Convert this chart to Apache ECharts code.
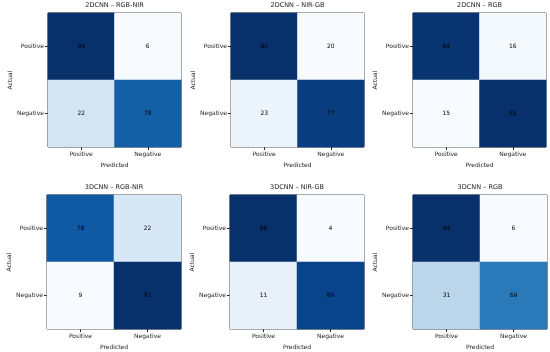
<!DOCTYPE html>
<html><head><meta charset="utf-8">
<script src="https://cdn.jsdelivr.net/npm/echarts@6/dist/echarts.min.js"></script>
<style>html,body{margin:0;padding:0;background:#fff}#c{width:550px;height:352px}</style>
</head><body><div id="c"></div>
<script>
const titles = ['2DCNN – RGB-NIR','2DCNN – NIR-GB','2DCNN – RGB','3DCNN – RGB-NIR','3DCNN – NIR-GB','3DCNN – RGB'];
const predictedLabels = ['Positive','Negative'];
const actualLabels = ['Positive','Negative'];
const m1 = [[94,6],[22,78]];
const m2 = [[80,20],[23,77]];
const m3 = [[84,16],[15,85]];
const m4 = [[78,22],[9,91]];
const m5 = [[96,4],[11,89]];
const m6 = [[94,6],[31,69]];
const matrices = [m1,m2,m3,m4,m5,m6];

const blues = ['#f7fbff','#deebf7','#c6dbef','#9ecae1','#6baed6','#4292c6','#2171b5','#08519c','#08306b'];
const boxes = [
  [48,13,133,134],[231,13,133,134],[413,13,133,134],
  [47,195,134,134],[230,195,134,134],[413,195,134,134]
];
const font = 'DejaVu Sans';
const fs = 6;
const grid=[],xAxis=[],yAxis=[],series=[],visualMap=[],title=[];
matrices.forEach((m,i)=>{
  const [l,t,w,h]=boxes[i];
  grid.push({left:l,top:t,width:w,height:h,show:true,borderColor:'#222',borderWidth:1,backgroundColor:'transparent'});
  xAxis.push({type:'category',gridIndex:i,data:predictedLabels,name:'Predicted',nameLocation:'middle',nameGap:15,
    nameTextStyle:{fontFamily:font,fontSize:fs,color:'#222'},
    axisLine:{show:false},axisTick:{show:true,alignWithLabel:true,length:3,lineStyle:{color:'#222'}},
    axisLabel:{fontFamily:font,fontSize:fs,color:'#222',margin:4},splitLine:{show:false}});
  yAxis.push({type:'category',gridIndex:i,data:actualLabels,inverse:true,name:'Actual',nameLocation:'middle',nameGap:35,
    nameTextStyle:{fontFamily:font,fontSize:fs,color:'#222'},
    axisLine:{show:false},axisTick:{show:true,alignWithLabel:true,length:3,lineStyle:{color:'#222'}},
    axisLabel:{fontFamily:font,fontSize:fs,color:'#222',margin:4},splitLine:{show:false}});
  const flat=[].concat(...m);
  visualMap.push({type:'continuous',show:false,seriesIndex:i,min:Math.min(...flat),max:Math.max(...flat),inRange:{color:blues}});
  const data=[];
  m.forEach((row,r)=>row.forEach((v,c)=>data.push([c,r,v])));
  series.push({type:'heatmap',xAxisIndex:i,yAxisIndex:i,data,
    label:{show:true,color:'#000',fontFamily:font,fontSize:fs},
    itemStyle:{borderWidth:0},emphasis:{disabled:true}});
  title.push({text:titles[i],left:l+w/2,textAlign:'center',top:t-11,padding:0,
    textStyle:{fontFamily:font,fontSize:6.5,fontWeight:'normal',color:'#222'}});
});
const chart=echarts.init(document.getElementById('c'),null,{renderer:'canvas'});
chart.setOption({animation:false,backgroundColor:'#fff',title,grid,xAxis,yAxis,visualMap,series});
</script></body></html>
